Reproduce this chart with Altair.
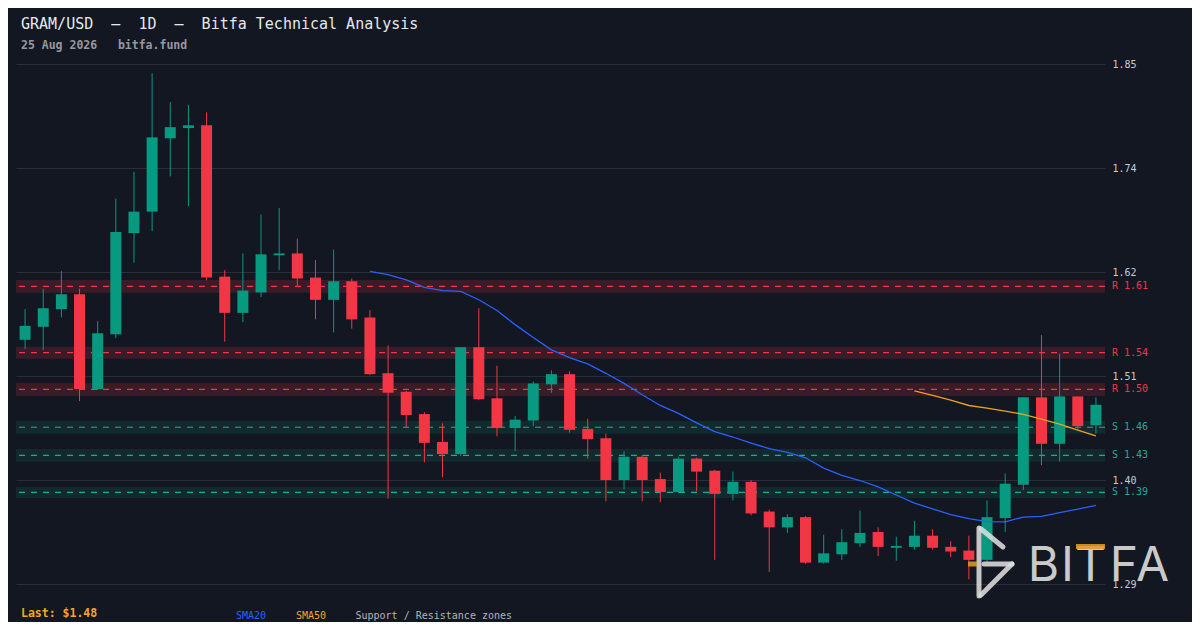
import altair as alt
import pandas as pd

# ---------------- data ----------------
idx = list(range(60))
opens = [1.551, 1.565, 1.584, 1.600, 1.498, 1.557, 1.666, 1.689, 1.768, 1.779,
         1.782, 1.619, 1.580, 1.602, 1.642, 1.644, 1.618, 1.594, 1.614, 1.575,
         1.515, 1.495, 1.471, 1.441, 1.428, 1.543, 1.488, 1.456, 1.464, 1.503,
         1.514, 1.455, 1.445, 1.400, 1.425, 1.401, 1.387, 1.423, 1.410, 1.385,
         1.398, 1.366, 1.349, 1.360, 1.311, 1.320, 1.332, 1.344, 1.327, 1.328,
         1.340, 1.328, 1.324, 1.314, 1.359, 1.395, 1.489, 1.439, 1.490, 1.459]
highs = [1.584, 1.606, 1.625, 1.606, 1.571, 1.703, 1.732, 1.838, 1.807, 1.804,
         1.796, 1.626, 1.644, 1.686, 1.693, 1.660, 1.637, 1.648, 1.617, 1.583,
         1.545, 1.496, 1.473, 1.461, 1.543, 1.585, 1.523, 1.469, 1.506, 1.518,
         1.517, 1.466, 1.450, 1.431, 1.427, 1.408, 1.425, 1.424, 1.411, 1.409,
         1.400, 1.368, 1.363, 1.361, 1.341, 1.347, 1.367, 1.349, 1.339, 1.356,
         1.347, 1.334, 1.340, 1.378, 1.407, 1.489, 1.556, 1.536, 1.490, 1.489]
lows = [1.541, 1.540, 1.575, 1.485, 1.497, 1.553, 1.634, 1.668, 1.727, 1.695,
        1.615, 1.549, 1.570, 1.597, 1.626, 1.608, 1.573, 1.559, 1.563, 1.513,
        1.380, 1.457, 1.419, 1.403, 1.426, 1.486, 1.447, 1.431, 1.458, 1.494,
        1.451, 1.423, 1.377, 1.390, 1.377, 1.376, 1.386, 1.388, 1.314, 1.378,
        1.362, 1.301, 1.343, 1.310, 1.310, 1.314, 1.328, 1.318, 1.313, 1.325,
        1.325, 1.317, 1.293, 1.311, 1.344, 1.389, 1.416, 1.420, 1.455, 1.450]
closes = [1.566, 1.585, 1.600, 1.498, 1.558, 1.667, 1.689, 1.769, 1.780, 1.782,
          1.618, 1.580, 1.604, 1.643, 1.644, 1.617, 1.594, 1.614, 1.573, 1.514,
          1.494, 1.470, 1.440, 1.428, 1.543, 1.487, 1.456, 1.465, 1.504, 1.514,
          1.454, 1.444, 1.400, 1.425, 1.400, 1.387, 1.423, 1.409, 1.385, 1.398,
          1.364, 1.349, 1.360, 1.311, 1.321, 1.333, 1.343, 1.328, 1.329, 1.340,
          1.327, 1.323, 1.314, 1.360, 1.396, 1.489, 1.439, 1.490, 1.458, 1.481]

res_levels = [1.6085, 1.5371, 1.4975]
res_lo = [1.6017, 1.5306, 1.4905]
res_hi = [1.6154, 1.5436, 1.5045]
res_labels = ["R 1.61", "R 1.54", "R 1.50"]
sup_levels = [1.4568, 1.4266, 1.3866]
sup_lo = [1.4499, 1.4197, 1.3806]
sup_hi = [1.4636, 1.4334, 1.3925]
sup_labels = ["S 1.46", "S 1.43", "S 1.39"]

tick_values = [1.288, 1.400, 1.512, 1.624, 1.736, 1.848]

NB = "\u00a0"
TITLE = f"GRAM/USD{NB*2}\u2014{NB*2}1D{NB*2}\u2014{NB*2}Bitfa Technical Analysis"
SUBTITLE = f"25 Aug 2026{NB*3}bitfa.fund"
LAST = "Last: $1.48"

# ---------------- style ----------------
W, H = 1089, 520
FONT = "DejaVu Sans Mono"
BG = "#131722"
UP = "#089981"
DOWN = "#f23645"
SUP = "#22ab94"
BLUE = "#2962ff"
ORANGE = "#f5a623"
GRID = "#2a2e39"
LOGO = "#dedede"

df = pd.DataFrame({"idx": idx, "open": opens, "high": highs,
                   "low": lows, "close": closes})
zones = pd.DataFrame({
    "kind": ["R"] * 3 + ["S"] * 3,
    "level": res_levels + sup_levels,
    "lo": res_lo + sup_lo,
    "hi": res_hi + sup_hi,
    "label": res_labels + sup_labels,
})

xs = alt.Scale(domain=[-0.5, 59.5], nice=False, zero=False, padding=0)
ys = alt.Scale(domain=[1.288, 1.848], nice=False, zero=False, padding=0)

y_axis = alt.Axis(orient="right", values=tick_values, format=".2f", grid=True,
                  gridColor=GRID, gridWidth=1, domain=False, ticks=False,
                  labelPadding=7, labelFont=FONT, labelFontSize=10,
                  labelColor="#c8ccd4", title=None)

zone_fill = alt.Color("kind:N", scale=alt.Scale(domain=["R", "S"], range=["#3a1c28", "#122a2e"]), legend=None)
zone_line = alt.Color("kind:N", scale=alt.Scale(domain=["R", "S"], range=[DOWN, SUP]), legend=None)

zone_rect = alt.Chart(zones).mark_rect().encode(
    x=alt.value(0), x2=alt.value(W),
    y=alt.Y("lo:Q", scale=ys, axis=y_axis), y2="hi:Q",
    fill=zone_fill,
)
zone_dash = alt.Chart(zones).mark_rule(strokeDash=[6, 6], strokeWidth=1.2).encode(
    y=alt.Y("level:Q", scale=ys), stroke=zone_line,
)
zone_text = alt.Chart(zones).mark_text(align="left", baseline="middle", font=FONT, fontSize=10).encode(
    x=alt.value(W + 7), y=alt.Y("level:Q", scale=ys), text="label:N",
    color=alt.Color("kind:N", scale=alt.Scale(domain=["R", "S"], range=[DOWN, SUP]), legend=None),
)

cond = alt.condition("datum.close >= datum.open", alt.value(UP), alt.value(DOWN))

wicks = alt.Chart(df).mark_rule(strokeWidth=1).encode(
    x=alt.X("idx:Q", scale=xs, axis=None),
    y=alt.Y("low:Q", scale=ys), y2="high:Q", color=cond,
)
bodies = alt.Chart(df).mark_bar(size=11).encode(
    x=alt.X("idx:Q", scale=xs, axis=None),
    y=alt.Y("open:Q", scale=ys), y2="close:Q", color=cond,
)

sma20 = alt.Chart(df).transform_window(
    sma="mean(close)", n="count()", frame=[-19, 0], sort=[alt.SortField("idx")]
).transform_filter("datum.n >= 20").mark_line(color=BLUE, strokeWidth=1.3).encode(
    x=alt.X("idx:Q", scale=xs, axis=None), y=alt.Y("sma:Q", scale=ys),
)
sma50 = alt.Chart(df).transform_window(
    sma="mean(close)", n="count()", frame=[-49, 0], sort=[alt.SortField("idx")]
).transform_filter("datum.n >= 50").mark_line(color="#f0a020", strokeWidth=1.3).encode(
    x=alt.X("idx:Q", scale=xs, axis=None), y=alt.Y("sma:Q", scale=ys),
)

one = pd.DataFrame({"t": [""]})


def label(text, x, y, size, color, weight="normal", font=FONT, align="left", opacity=1.0):
    return alt.Chart(pd.DataFrame({"t": [text]})).mark_text(
        align=align, baseline="alphabetic", font=font, fontSize=size,
        fontWeight=weight, color=color, opacity=opacity,
    ).encode(text="t:N", x=alt.value(x), y=alt.value(y))


def seg(x1, y1, x2, y2, color, width=5, cap="round"):
    return alt.Chart(one).mark_rule(strokeWidth=width, strokeCap=cap, opacity=0.88).encode(
        x=alt.value(x1), y=alt.value(y1), x2=alt.value(x2), y2=alt.value(y2),
        color=alt.value(color),
    )


texts = [
    label(TITLE, 5, -35, 15, "#e6e8ec"),
    label(SUBTITLE, 5, -15, 11.5, "#9598a1", weight="bold"),
    label(LAST, 5, 553, 11.5, ORANGE, weight="bold"),
    label("SMA20", 220, 555, 10, BLUE),
    label("SMA50", 280, 555, 10, ORANGE),
    label("Support / Resistance zones", 339.5, 555, 10, "#b2b5be"),
]

# watermark (decoration)
logo = [
    seg(963, 464, 963, 532, LOGO),
    seg(965, 465, 987, 483, LOGO),
    seg(968, 500, 996, 500, LOGO),
    seg(996, 500, 965, 531, LOGO),
    seg(952, 500, 961, 500, "#e09a26", cap="butt"),
]
letters = [("B", 1027.5), ("I", 1051.5), ("T", 1074.5), ("F", 1108), ("A", 1136.5)]
for ch, px in letters:
    logo.append(label(ch, px, 517, 48, LOGO, font="Inter", align="center", opacity=0.9))
logo.append(seg(1060, 482.5, 1089, 482.5, "#e09a26", cap="butt"))

chart = alt.layer(
    zone_rect, zone_dash, wicks, bodies, sma20, sma50, zone_text, *logo, *texts
).properties(
    width=W, height=H,
    padding={"left": 8, "top": 56, "right": 87, "bottom": 38},
    autosize=alt.AutoSizeParams(type="none"),
    background=BG,
).configure_view(stroke=None)

chart.save("out.html", embed_options={"renderer": "svg", "actions": False})
